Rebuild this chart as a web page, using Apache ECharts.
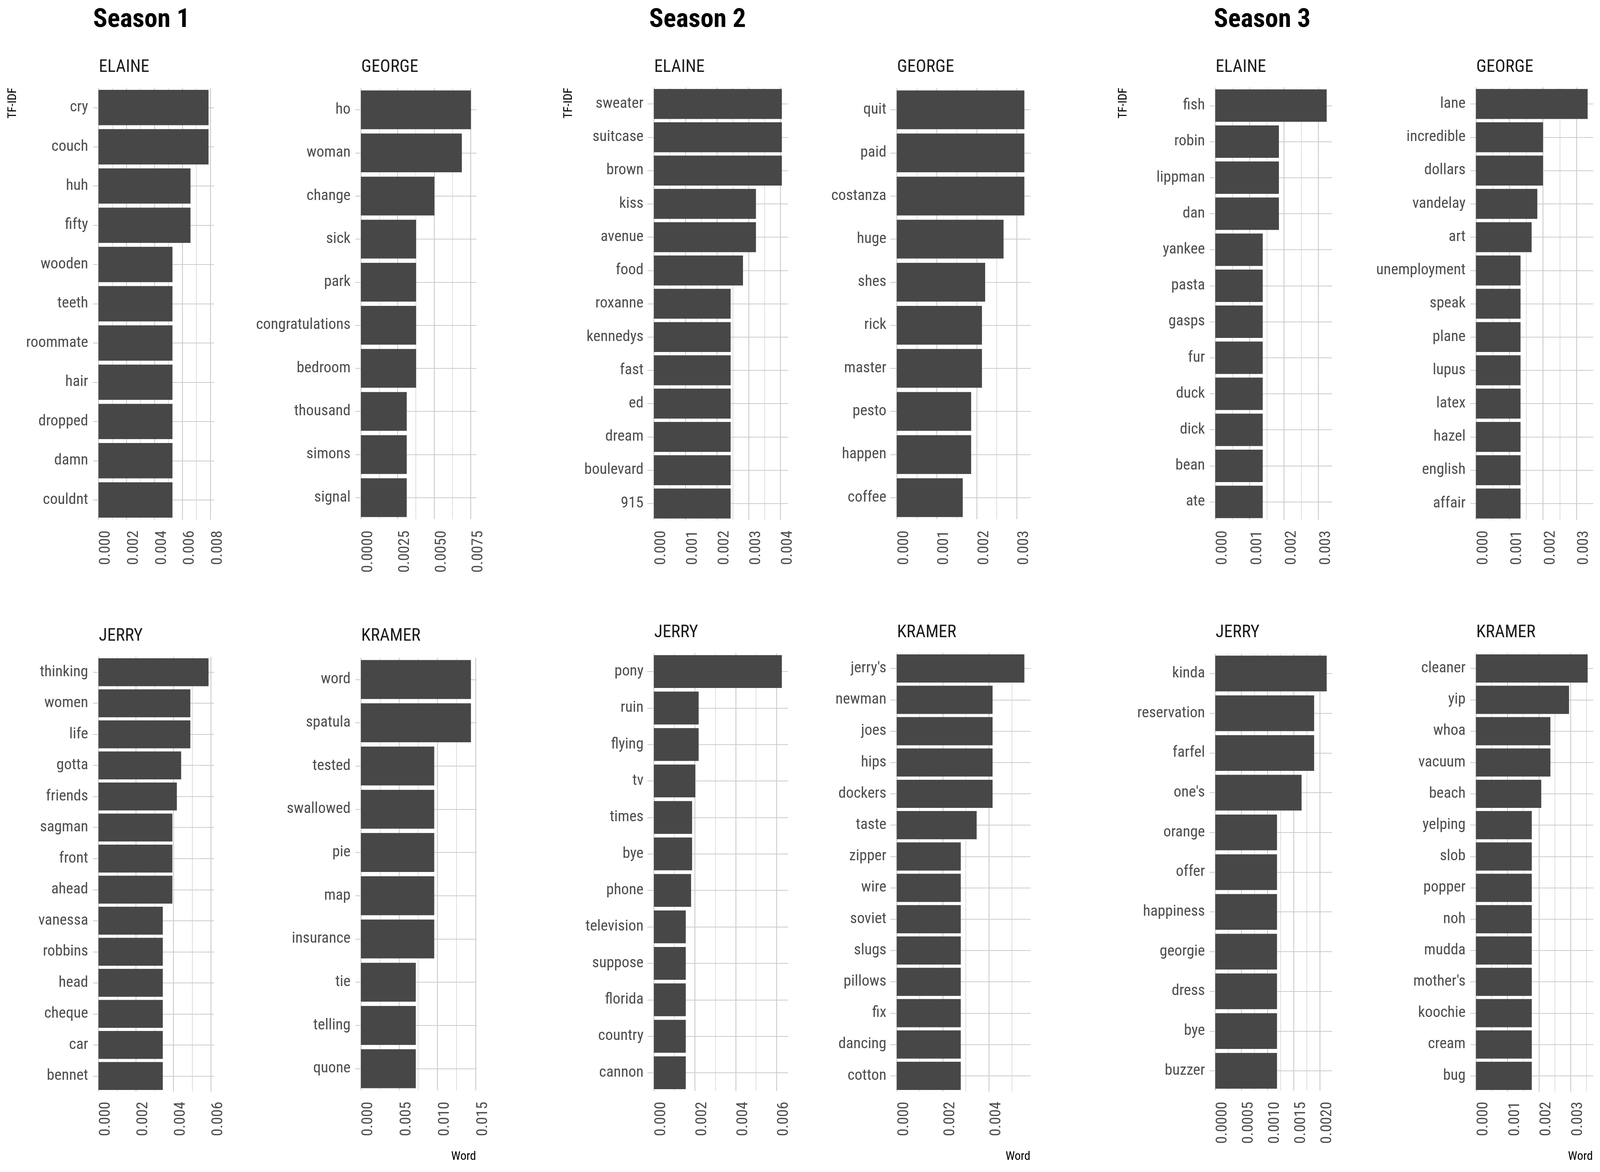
<!DOCTYPE html>
<html><head><meta charset="utf-8">
<script src="https://cdn.jsdelivr.net/npm/echarts@6/dist/echarts.min.js"></script>
<style>html,body{margin:0;padding:0;background:#fff;overflow:hidden}#chart{width:100vw;height:100vh}</style>
</head><body><div id="chart"></div>
<script>
// ---------------- DATA ----------------
const seasonTitles = ["Season 1", "Season 2", "Season 3"];

const s1ElaineWords = ["cry","couch","huh","fifty","wooden","teeth","roommate","hair","dropped","damn","couldnt"];
const s1ElaineTfidf = [0.00787,0.00787,0.00658,0.00658,0.00529,0.00529,0.00529,0.00529,0.00529,0.00529,0.00529];
const s1GeorgeWords = ["ho","woman","change","sick","park","congratulations","bedroom","thousand","simons","signal"];
const s1GeorgeTfidf = [0.00751,0.00689,0.00502,0.00377,0.00377,0.00377,0.00377,0.00313,0.00313,0.00313];
const s1JerryWords = ["thinking","women","life","gotta","friends","sagman","front","ahead","vanessa","robbins","head","cheque","car","bennet"];
const s1JerryTfidf = [0.00587,0.00490,0.00490,0.00441,0.00418,0.00394,0.00394,0.00394,0.00343,0.00343,0.00343,0.00343,0.00343,0.00343];
const s1KramerWords = ["word","spatula","tested","swallowed","pie","map","insurance","tie","telling","quone"];
const s1KramerTfidf = [0.01439,0.01439,0.00959,0.00959,0.00959,0.00959,0.00959,0.00718,0.00718,0.00718];

const s2ElaineWords = ["sweater","suitcase","brown","kiss","avenue","food","roxanne","kennedys","fast","ed","dream","boulevard","915"];
const s2ElaineTfidf = [0.00405,0.00405,0.00405,0.00323,0.00323,0.00282,0.00243,0.00243,0.00243,0.00243,0.00243,0.00243,0.00243];
const s2GeorgeWords = ["quit","paid","costanza","huge","shes","rick","master","pesto","happen","coffee"];
const s2GeorgeTfidf = [0.00319,0.00319,0.00319,0.00267,0.00221,0.00213,0.00213,0.00186,0.00186,0.00165];
const s2JerryWords = ["pony","ruin","flying","tv","times","bye","phone","television","suppose","florida","country","cannon"];
const s2JerryTfidf = [0.00626,0.00219,0.00219,0.00203,0.00187,0.00187,0.00182,0.00156,0.00156,0.00156,0.00156,0.00156];
const s2KramerWords = ["jerry's","newman","joes","hips","dockers","taste","zipper","wire","soviet","slugs","pillows","fix","dancing","cotton"];
const s2KramerTfidf = [0.00554,0.00416,0.00416,0.00416,0.00416,0.00347,0.00278,0.00278,0.00278,0.00278,0.00278,0.00278,0.00278,0.00278];

const s3ElaineWords = ["fish","robin","lippman","dan","yankee","pasta","gasps","fur","duck","dick","bean","ate"];
const s3ElaineTfidf = [0.00324,0.00185,0.00185,0.00185,0.00138,0.00138,0.00138,0.00138,0.00138,0.00138,0.00138,0.00138];
const s3GeorgeWords = ["lane","incredible","dollars","vandelay","art","unemployment","speak","plane","lupus","latex","hazel","english","affair"];
const s3GeorgeTfidf = [0.00333,0.00200,0.00200,0.00183,0.00166,0.00133,0.00133,0.00133,0.00133,0.00133,0.00133,0.00133,0.00133];
const s3JerryWords = ["kinda","reservation","farfel","one's","orange","offer","happiness","georgie","dress","bye","buzzer"];
const s3JerryTfidf = [0.00213,0.00189,0.00189,0.00165,0.00118,0.00118,0.00118,0.00118,0.00118,0.00118,0.00118];
const s3KramerWords = ["cleaner","yip","whoa","vacuum","beach","yelping","slob","popper","noh","mudda","mother's","koochie","cream","bug"];
const s3KramerTfidf = [0.00354,0.00295,0.00236,0.00236,0.00207,0.00177,0.00177,0.00177,0.00177,0.00177,0.00177,0.00177,0.00177,0.00177];

const tickSteps  = [0.002,0.0025,0.002,0.005, 0.001,0.001,0.002,0.002, 0.001,0.001,0.0005,0.001];
const minorSteps = [0.001,0.00125,0.001,0.0025, 0.0005,0.0005,0.001,0.001, 0.0005,0.0005,0.00025,0.0005];
const tickDecimals = [3,4,3,3, 3,3,3,3, 3,3,4,3];

// ---------------- FONT ----------------
const mc = document.createElement('canvas').getContext('2d');
function hasFont(name){
  const t = 'congratulations 0.0025 ELAINE Wg';
  let r = false;
  ['monospace','serif'].forEach(f=>{
    mc.font = '48px ' + f; const a = mc.measureText(t).width;
    mc.font = "48px '" + name + "', " + f; const b = mc.measureText(t).width;
    if (a !== b) r = true;
  });
  return r;
}
const cands = ['Liberation Sans Narrow','Arial Narrow','Roboto Condensed','DejaVu Sans Condensed'];
const avail = cands.filter(hasFont);
const FAM = avail.length ? "'" + avail[0] + "'" : "'Liberation Sans', sans-serif";
// font size giving a target text width (widths)
function sizeFor(text, target, weight){
  mc.font = (weight || 'normal') + ' 100px ' + FAM;
  return 100 * target / mc.measureText(text).width;
}

const W = window.innerWidth, H = window.innerHeight;
const SX = W / 4500, SY = H / 3000, SF = Math.min(SX, SY);

const FS_WORD  = sizeFor('congratulations', 266) * SF;
const FS_TICK  = sizeFor('0.000', 97) * SF;
const FS_STRIP = sizeFor('ELAINE', 142) * SF;
const FS_TITLE = sizeFor('Season 1', 272, 'bold') * SF;
const FS_TF    = sizeFor('TF-IDF', 87) * SF;
const FS_AX    = sizeFor('Word', 70) * SF;

// ---------------- LAYOUT ----------------
const layout = [
  {zero:277,  right:602,  top:215,  bottom:1340, stripY:173},
  {zero:1015, right:1340, top:215,  bottom:1340, stripY:173},
  {zero:277,  right:602,  top:1673, bottom:2802, stripY:1629},
  {zero:1015, right:1340, top:1673, bottom:2802, stripY:1629},
  {zero:1839, right:2217, top:215,  bottom:1340, stripY:173},
  {zero:2522, right:2899, top:215,  bottom:1340, stripY:173},
  {zero:1839, right:2217, top:1663, bottom:2802, stripY:1620},
  {zero:2522, right:2899, top:1663, bottom:2802, stripY:1620},
  {zero:3418, right:3747, top:215,  bottom:1340, stripY:173},
  {zero:4151, right:4481, top:215,  bottom:1340, stripY:173},
  {zero:3418, right:3747, top:1663, bottom:2802, stripY:1620},
  {zero:4151, right:4481, top:1663, bottom:2802, stripY:1620}
];
const panelWords = [s1ElaineWords,s1GeorgeWords,s1JerryWords,s1KramerWords,s2ElaineWords,s2GeorgeWords,s2JerryWords,s2KramerWords,s3ElaineWords,s3GeorgeWords,s3JerryWords,s3KramerWords];
const panelValues = [s1ElaineTfidf,s1GeorgeTfidf,s1JerryTfidf,s1KramerTfidf,s2ElaineTfidf,s2GeorgeTfidf,s2JerryTfidf,s2KramerTfidf,s3ElaineTfidf,s3GeorgeTfidf,s3JerryTfidf,s3KramerTfidf];
const panelNames = ["ELAINE","GEORGE","JERRY","KRAMER","ELAINE","GEORGE","JERRY","KRAMER","ELAINE","GEORGE","JERRY","KRAMER"];

const GRID_COL = '#cccccc';
const grids = [], xAxes = [], yAxes = [], series = [], graphics = [];

panelWords.forEach((words, i) => {
  const L = layout[i];
  const vals = panelValues[i];
  const n = words.length;
  const u = (L.bottom - L.top) / (n + 0.2);
  const gTop = L.top + 0.1 * u, gBot = L.bottom - 0.1 * u;
  const vmax = Math.max(...vals) * 1.05;
  const w = L.right - L.zero;
  grids.push({left: L.zero * SX, top: gTop * SY, width: w * SX, height: (gBot - gTop) * SY, containLabel: false});
  const dec = tickDecimals[i];
  xAxes.push({
    type: 'value', gridIndex: i, position: 'bottom', min: 0, max: vmax, interval: tickSteps[i],
    axisLine: {show: false}, axisTick: {show: false},
    splitLine: {show: true, showMaxLine: false, lineStyle: {color: GRID_COL, width: 2.4 * SF}},
    axisLabel: {show: true, rotate: 90, margin: ((L.bottom + 18) - gBot) * SY, verticalAlign: 'top',
      fontSize: FS_TICK, fontFamily: FAM, color: '#4d4d4d', showMaxLabel: false,
      formatter: v => Number(v).toFixed(dec)}
  });
  xAxes.push({
    type: 'value', gridIndex: i, position: 'top', min: 0, max: vmax, interval: minorSteps[i],
    axisLine: {show: false}, axisTick: {show: false}, axisLabel: {show: false},
    splitLine: {show: true, showMaxLine: false, lineStyle: {color: GRID_COL, width: 1.4 * SF}}
  });
  yAxes.push({
    type: 'category', gridIndex: i, data: words, inverse: true,
    axisLine: {show: false},
    axisTick: {show: true, alignWithLabel: true, length: w * 0.05 / 1.05 * SX, lineStyle: {color: GRID_COL, width: 2.4 * SF}},
    splitLine: {show: true, alignWithLabel: true, lineStyle: {color: GRID_COL, width: 2.4 * SF}},
    axisLabel: {interval: 0, margin: 29 * SX, fontSize: FS_WORD, fontFamily: FAM, color: '#4d4d4d'}
  });
  series.push({
    type: 'bar', xAxisIndex: 2 * i, yAxisIndex: i, data: vals, barWidth: '90%',
    itemStyle: {color: '#474747'}, silent: true
  });
  graphics.push({type: 'text', x: (L.zero + 1) * SX, y: L.stripY * SY,
    style: {text: panelNames[i], fontSize: FS_STRIP, fontFamily: FAM, fill: '#1a1a1a',
      align: 'left', textAlign: 'left', verticalAlign: 'middle', textVerticalAlign: 'middle'}});
});

const titleX = [262, 1826, 3414];
seasonTitles.forEach((t, k) => {
  graphics.push({type: 'text', x: titleX[k] * SX, y: 52 * SY,
    style: {text: t, fontSize: FS_TITLE, fontWeight: 'bold', fontFamily: FAM, fill: '#000',
      align: 'left', textAlign: 'left', verticalAlign: 'middle', textVerticalAlign: 'middle'}});
});
[36, 1600, 3160].forEach(x => {
  graphics.push({type: 'text', x: x * SX, y: 264 * SY, rotation: Math.PI / 2,
    style: {text: 'TF-IDF', fontSize: FS_TF, fontFamily: FAM, fill: '#000',
      align: 'center', textAlign: 'center', verticalAlign: 'middle', textVerticalAlign: 'middle'}});
});
[1339, 2898, 4480].forEach(x => {
  graphics.push({type: 'text', x: x * SX, y: 2961 * SY,
    style: {text: 'Word', fontSize: FS_AX, fontFamily: FAM, fill: '#000',
      align: 'right', textAlign: 'right', verticalAlign: 'middle', textVerticalAlign: 'middle'}});
});

const chart = echarts.init(document.getElementById('chart'), null, {renderer: 'canvas'});
chart.setOption({
  animation: false, backgroundColor: '#ffffff',
  grid: grids, xAxis: xAxes, yAxis: yAxes, series: series, graphic: graphics
});
</script></body></html>
